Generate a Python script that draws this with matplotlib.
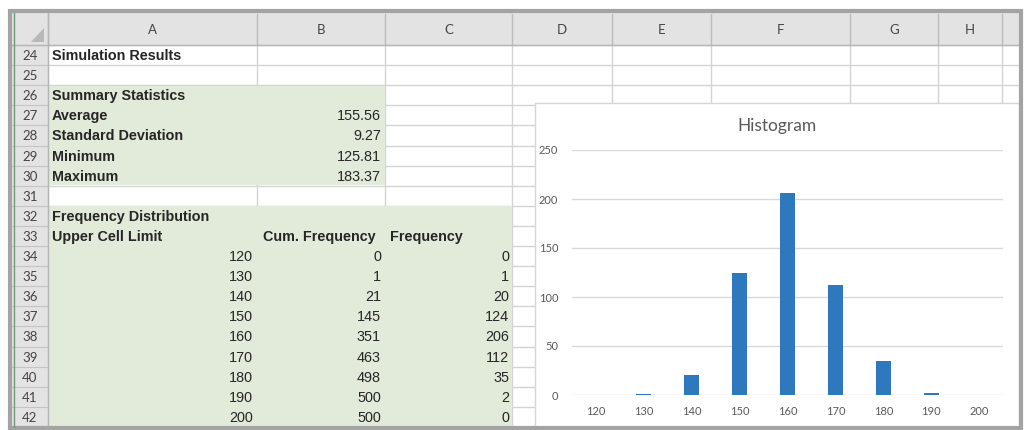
import matplotlib
matplotlib.use('Agg')
import matplotlib.pyplot as plt
from matplotlib.patches import Rectangle, Polygon

# --- sheet contents ---
col_letters = ['A', 'B', 'C', 'D', 'E', 'F', 'G', 'H']
row_numbers = list(range(24, 43))
summary_labels = ['Average', 'Standard Deviation', 'Minimum', 'Maximum']
summary_values = ['155.56', '9.27', '125.81', '183.37']
upper_limits = [120, 130, 140, 150, 160, 170, 180, 190, 200]
cum_freq = [0, 1, 21, 145, 351, 463, 498, 500, 500]
frequency = [0, 1, 20, 124, 206, 112, 35, 2, 0]
y_ticks = [0, 50, 100, 150, 200, 250]

W, H = 1025, 430
col_edges = [48, 257, 385, 512, 612, 711, 850, 938, 1002, 1020]
row_top = 45
row_h = 20.1

GREEN = '#e2ebda'
HEAD = '#e3e3e3'
GRID = '#d4d4d4'
TXT = '#262626'


def ry(r):
    # top pixel of sheet row r
    return row_top + (r - 24) * row_h


fig = plt.figure(figsize=(W / 100, H / 100), dpi=100)
sheet = fig.add_axes([0, 0, 1, 1])
sheet.set_xlim(0, W)
sheet.set_ylim(H, 0)
sheet.axis('off')

# header strip and row number column
sheet.add_patch(Rectangle((12, 12), 1008, 33, facecolor=HEAD, edgecolor='none'))
sheet.add_patch(Rectangle((12, 12), 36, 416, facecolor=HEAD, edgecolor='none'))

# grid lines
for r in range(24, 44):
    sheet.plot([48, 1020], [ry(r), ry(r)], color=GRID, lw=1, zorder=1)
    sheet.plot([12, 48], [ry(r), ry(r)], color='#c4c4c4', lw=0.8, zorder=1)
for x in col_edges:
    sheet.plot([x, x], [45, 428], color=GRID, lw=1, zorder=1)
    sheet.plot([x, x], [14, 45], color='#bdbdbd', lw=1, zorder=1)
sheet.plot([12, 1020], [45, 45], color='#b5b5b5', lw=1, zorder=2)
sheet.plot([48, 48], [12, 428], color='#b5b5b5', lw=1, zorder=2)

# green blocks (cover the grid lines)
sheet.add_patch(Rectangle((48.5, ry(26) + 0.5), 385 - 48.5, ry(31) - ry(26) - 1, facecolor=GREEN,
                          edgecolor='none', zorder=1.5))
sheet.add_patch(Rectangle((48.5, ry(32) + 0.5), 512 - 48.5, ry(43) - ry(32), facecolor=GREEN,
                          edgecolor='none', zorder=1.5))

# corner triangle
sheet.add_patch(Polygon([[44, 28], [44, 42], [31, 42]], closed=True, facecolor='#b8b8b8', edgecolor='none'))

# outer frame
sheet.add_patch(Rectangle((10, 11), 1011, 417, facecolor='none', edgecolor='#a3a3a3', lw=3, zorder=6))
sheet.plot([13.5, 13.5], [13, 427], color='#6f9a7c', lw=1, zorder=6)

# column letters and row numbers
for i, c in enumerate(col_letters):
    xc = (col_edges[i] + col_edges[i + 1]) / 2
    sheet.text(xc, 30, c, ha='center', va='center', fontsize=9.5, color='#444444', family='Lato')
for r in row_numbers:
    sheet.text(30, ry(r) + row_h / 2 + 1, str(r), ha='center', va='center', fontsize=9.5,
               color='#444444', family='Lato')


def cell(r, x, s, ha='left', bold=False):
    sheet.text(x, ry(r) + row_h / 2 + 1, s, ha=ha, va='center', fontsize=10.4, color=TXT,
               family='Liberation Sans', fontweight='bold' if bold else 'normal', zorder=3)


cell(24, 52, 'Simulation Results', bold=True)
cell(26, 52, 'Summary Statistics', bold=True)
for i, (lab, val) in enumerate(zip(summary_labels, summary_values)):
    cell(27 + i, 52, lab, bold=True)
    cell(27 + i, 381, val, ha='right')
cell(32, 52, 'Frequency Distribution', bold=True)
cell(33, 52, 'Upper Cell Limit', bold=True)
cell(33, 263, 'Cum. Frequency', bold=True)
cell(33, 390, 'Frequency', bold=True)
for i in range(len(upper_limits)):
    cell(34 + i, 253, str(upper_limits[i]), ha='right')
    cell(34 + i, 381, str(cum_freq[i]), ha='right')
    cell(34 + i, 509, str(frequency[i]), ha='right')

# chart area
sheet.add_patch(Rectangle((535, 103), 484, 324, facecolor='white', edgecolor='#d6d6d6', lw=1, zorder=3))
sheet.text(777, 126, 'Histogram', ha='center', va='center', fontsize=12.5, color='#595959',
           family='Lato', zorder=4)

ax = fig.add_axes([572 / W, (H - 395) / H, 431 / W, 245 / H], zorder=5)
ax.patch.set_alpha(0)
pos = list(range(len(upper_limits)))
ax.bar(pos, frequency, width=0.31, color='#2e78be', zorder=3)
ax.set_xlim(-0.5, len(upper_limits) - 0.5)
ax.set_ylim(0, 250)
ax.set_yticks(y_ticks)
ax.set_xticks(pos)
ax.set_xticklabels([str(u) for u in upper_limits])
ax.grid(axis='y', color='#d9d9d9', lw=1, zorder=0)
for sp in ax.spines.values():
    sp.set_visible(False)
ax.tick_params(length=0, labelsize=8, labelcolor='#595959')
ax.tick_params(axis='y', pad=10)
ax.tick_params(axis='x', pad=8)
for lab in ax.get_xticklabels() + ax.get_yticklabels():
    lab.set_family('Lato')

fig.savefig('out.png', dpi=100, facecolor='white')
